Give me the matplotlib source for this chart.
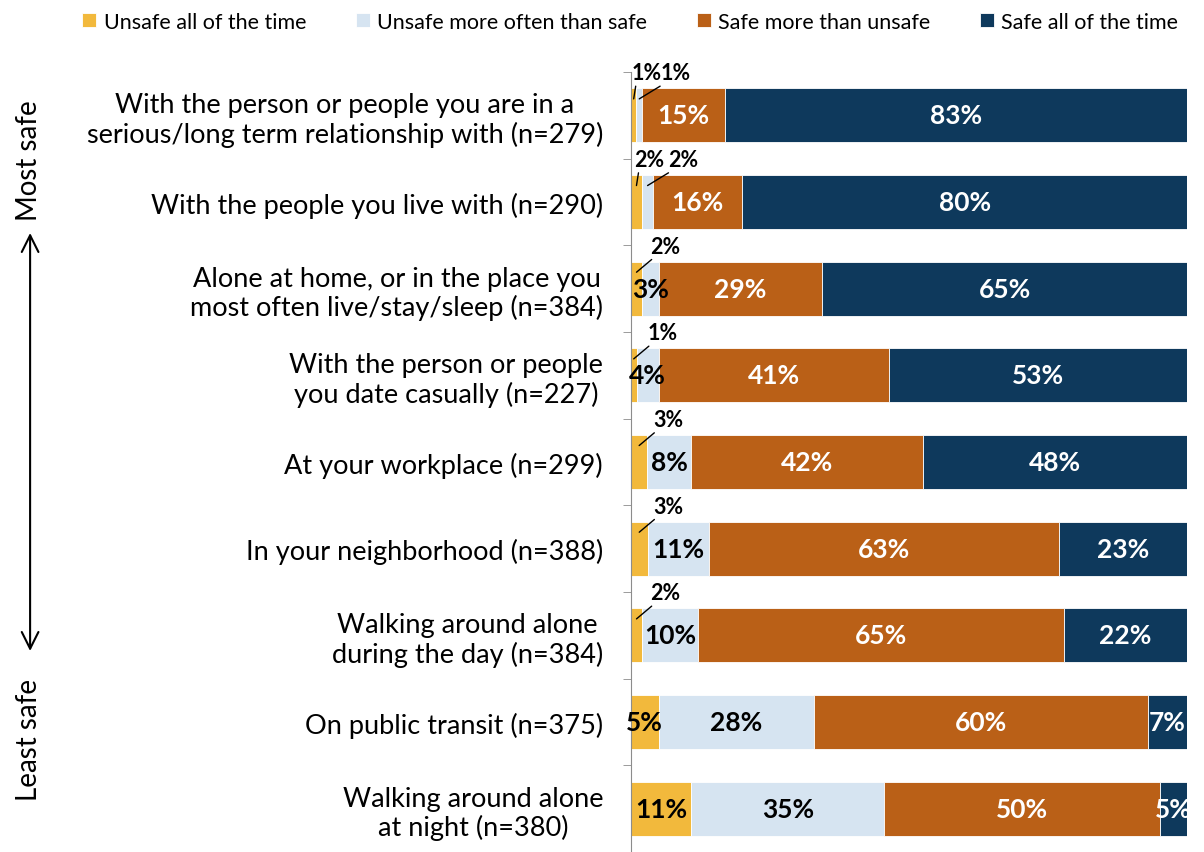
import numpy as np
import matplotlib.pyplot as plt

# Share of respondents by how safe they feel in each situation
categories = [
    "With the person or people you are in a\nserious/long term relationship with (n=279)",
    "With the people you live with (n=290)",
    "Alone at home, or in the place you\nmost often live/stay/sleep (n=384)",
    "With the person or people\nyou date casually (n=227)",
    "At your workplace (n=299)",
    "In your neighborhood (n=388)",
    "Walking around alone\nduring the day (n=384)",
    "On public transit (n=375)",
    "Walking around alone\nat night (n=380)",
]
unsafe_all = [1, 2, 2, 1, 3, 3, 2, 5, 11]
unsafe_more = [1, 2, 3, 4, 8, 11, 10, 28, 35]
safe_more = [15, 16, 29, 41, 42, 63, 65, 60, 50]
safe_all = [83, 80, 65, 53, 48, 23, 22, 7, 5]
series_names = ["Unsafe all of the time", "Unsafe more often than safe",
                "Safe more than unsafe", "Safe all of the time"]
colors = ["#F2B93C", "#D6E4F1", "#BA6017", "#0E395C"]
text_colors = ["black", "black", "white", "white"]

plt.rcParams['font.family'] = ['Lato', 'DejaVu Sans']

fig = plt.figure(figsize=(12.04, 8.53), dpi=100)
ax = fig.add_axes([0.524, 0.0, 0.462, 0.9144])

data = np.array([unsafe_all, unsafe_more, safe_more, safe_all], dtype=float)
shares = data / data.sum(axis=0) * 100  # rounded labels, bars fill to 100%
y = np.arange(len(categories))
bar_h = 0.62
left = np.zeros(len(categories))
px = 0.72  # points per pixel at dpi 100

for k in range(4):
    ax.barh(y, shares[k], left=left, height=bar_h, color=colors[k],
            edgecolor="white", linewidth=0.6, label=series_names[k])
    for i in range(len(categories)):
        val = data[k, i]
        cx = left[i] + shares[k, i] / 2
        outside = (k == 0 and val < 4) or (k == 1 and val < 3)
        if outside:
            both = data[1, i] < 3
            dx = 36 if k == 1 else (13 if both else 29)
            ax.annotate(f"{val:.0f}%", xy=(cx, i - bar_h / 2 + 0.12),
                        xytext=(dx * px, 26 * px), textcoords="offset points",
                        ha="center", va="center", fontsize=15.5, fontweight="bold",
                        arrowprops=dict(arrowstyle="-", color="black", lw=1,
                                        relpos=(0.15, 0), shrinkA=0, shrinkB=0))
        else:
            ax.text(cx, i, f"{val:.0f}%", ha="center", va="center",
                    fontsize=19, fontweight="bold", color=text_colors[k])
    left += shares[k]

ax.set_xlim(0, 100)
ax.set_ylim(len(categories) - 0.5, -0.5)
ax.set_yticks(y)
ax.set_yticklabels(categories, fontsize=19.5, multialignment="center", linespacing=1.15)
ax.set_yticks(np.arange(len(categories) + 1) - 0.5, minor=True)
ax.tick_params(axis="y", which="major", length=0, pad=20)
ax.tick_params(axis="y", which="minor", length=6, color="#8C8C8C", direction="out")
ax.set_xticks([])
for s in ["top", "right", "bottom"]:
    ax.spines[s].set_visible(False)
ax.spines["left"].set_color("#8C8C8C")

fig.legend(loc="upper left", bbox_to_anchor=(0.052, 1.008), ncol=4, frameon=False,
           fontsize=15.5, handlelength=0.65, handleheight=0.65, handletextpad=0.35,
           columnspacing=2.3)

# Most safe / least safe guide on the left
fig.text(0.024, 1 - 161 / 853, "Most safe", rotation=90, ha="center", va="center",
         fontsize=20)
fig.text(0.024, 1 - 740 / 853, "Least safe", rotation=90, ha="center", va="center",
         fontsize=20)
ax.annotate("", xy=(0.025, 1 - 652 / 853), xytext=(0.025, 1 - 234 / 853),
            xycoords="figure fraction", textcoords="figure fraction",
            arrowprops=dict(arrowstyle="<->", lw=1.5, color="black",
                            mutation_scale=30, shrinkA=0, shrinkB=0))

fig.savefig("out.png", dpi=100)
